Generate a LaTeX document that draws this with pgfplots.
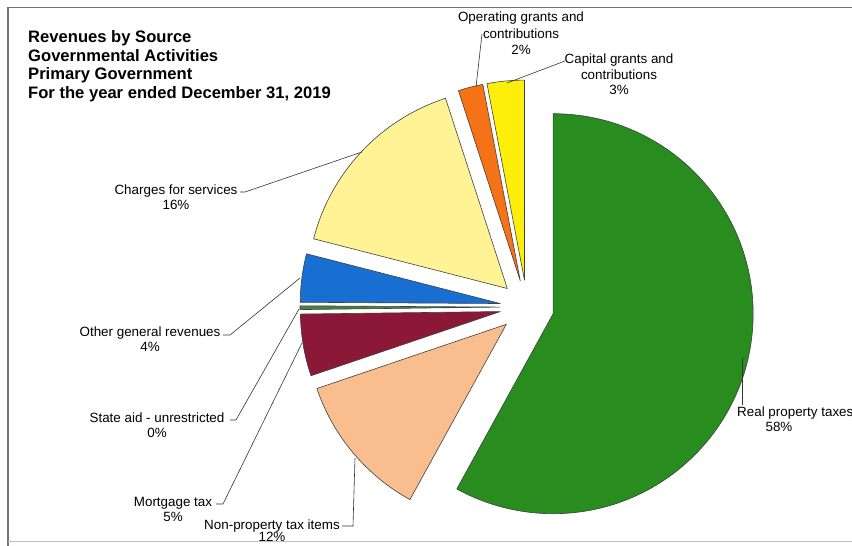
\documentclass[border=0pt]{standalone}
\usepackage{pgfplots}
\usepackage{pgfplotstable}
\pgfplotsset{compat=1.18}
\usepackage{fontspec}
\setmainfont{Liberation Sans}

\definecolor{slice0}{RGB}{40,140,30}   % Real property taxes
\definecolor{slice1}{RGB}{250,190,142} % Non-property tax items
\definecolor{slice2}{RGB}{140,24,56}   % Mortgage tax
\definecolor{slice3}{RGB}{70,130,60}   % State aid
\definecolor{slice4}{RGB}{25,110,210}  % Other general revenues
\definecolor{slice5}{RGB}{255,243,150} % Charges for services
\definecolor{slice6}{RGB}{245,115,22}  % Operating grants
\definecolor{slice7}{RGB}{255,238,10}  % Capital grants

% shares in percent, clockwise from 12 o'clock
\pgfplotstableread{
pct
58
11.8
5
0.3
3.9
16
2
3
}\piedata

\newcommand\lblfont{\fontsize{13.4}{15}\selectfont}
\newcommand\ttlfont{\fontsize{16.6}{18.5}\selectfont\bfseries}

\begin{document}
\begin{tikzpicture}
\begin{axis}[x=1pt,y=1pt,xmin=0,xmax=852,ymin=-546,ymax=0,
  hide axis,clip=false,scale only axis]
\coordinate (BL) at (axis cs:0,-546);
\coordinate (TR) at (axis cs:852,0);
% frame
\draw[black!55,line width=1.1pt] (axis cs:8,-560) -- (axis cs:8,-7.5) -- (axis cs:870,-7.5);
\draw[black!25,line width=0.8pt] (axis cs:8,-541) -- (axis cs:870,-541);

% pie
\def\Cx{527}\def\Cy{-307}\def\R{200}\def\D{27}
\def\cum{0}
\pgfplotsforeachungrouped \i in {0,...,7}{%
  \pgfplotstablegetelem{\i}{pct}\of\piedata
  \let\p\pgfplotsretval
  \pgfmathsetmacro{\tA}{\cum*3.6}%
  \pgfmathsetmacro{\tB}{(\cum+\p)*3.6}%
  \pgfmathsetmacro{\pA}{90-\tA}%
  \pgfmathsetmacro{\pB}{90-\tB}%
  \pgfmathsetmacro{\pM}{90-(\tA+\tB)/2}%
  \pgfmathsetmacro{\tx}{\Cx+\D*cos(\pM)}%
  \pgfmathsetmacro{\ty}{\Cy+\D*sin(\pM)}%
  \pgfmathsetmacro{\sx}{\tx+\R*cos(\pA)}%
  \pgfmathsetmacro{\sy}{\ty+\R*sin(\pA)}%
  \pgfmathsetmacro{\cum}{\cum+\p}%
  \edef\temp{\noexpand\filldraw[fill=slice\i,draw=black!75,line width=0.6pt,line join=round]
     (axis cs:\tx,\ty) -- (axis cs:\sx,\sy) arc[start angle=\pA,end angle=\pB,radius=\R pt] -- cycle;}%
  \temp
}

% title
\node[anchor=base west,inner sep=0,font=\ttlfont] at (axis cs:28,-43) {Revenues by Source};
\node[anchor=base west,inner sep=0,font=\ttlfont] at (axis cs:28,-61.5) {Governmental Activities};
\node[anchor=base west,inner sep=0,font=\ttlfont] at (axis cs:28,-80) {Primary Government};
\node[anchor=base west,inner sep=0,font=\ttlfont] at (axis cs:28,-98.5) {For the year ended December 31, 2019};

% labels
\begin{scope}[every node/.style={anchor=base,inner sep=0,font=\lblfont}]
\node at (axis cs:521,-22) {Operating grants and};
\node at (axis cs:521,-38.5) {contributions};
\node at (axis cs:521,-55) {2\%};

\node at (axis cs:619,-64) {Capital grants and};
\node at (axis cs:619,-79.5) {contributions};
\node at (axis cs:619,-95) {3\%};

\node at (axis cs:176,-195) {Charges for services};
\node at (axis cs:176,-210) {16\%};

\node at (axis cs:150,-337) {Other general revenues};
\node at (axis cs:150,-352) {4\%};

\node at (axis cs:157,-423) {State aid - unrestricted};
\node at (axis cs:157,-438) {0\%};

\node at (axis cs:173,-507) {Mortgage tax};
\node at (axis cs:173,-522) {5\%};

\node at (axis cs:272,-530) {Non-property tax items};
\node at (axis cs:272,-542) {12\%};

\node[anchor=base west] at (axis cs:737,-417) {Real property taxes};
\node at (axis cs:779,-432) {58\%};
\end{scope}

% leader lines
\begin{scope}[black!80,line width=0.6pt]
\draw (axis cs:476,-87) -- (axis cs:482,-34);
\draw (axis cs:507,-83) -- (axis cs:565,-61);
\draw (axis cs:240,-192) -- (axis cs:245,-192) -- (axis cs:362,-152);
\draw (axis cs:223,-335) -- (axis cs:230,-335) -- (axis cs:300,-278);
\draw (axis cs:230,-420) -- (axis cs:236,-420) -- (axis cs:299,-309);
\draw (axis cs:216,-504) -- (axis cs:223,-504) -- (axis cs:302,-343);
\draw (axis cs:342,-526) -- (axis cs:353,-526) -- (axis cs:355,-458);
\draw (axis cs:742,-358) -- (axis cs:742,-405);
\end{scope}
\end{axis}
\pgfresetboundingbox
\path (BL) rectangle (TR);
\end{tikzpicture}
\end{document}
